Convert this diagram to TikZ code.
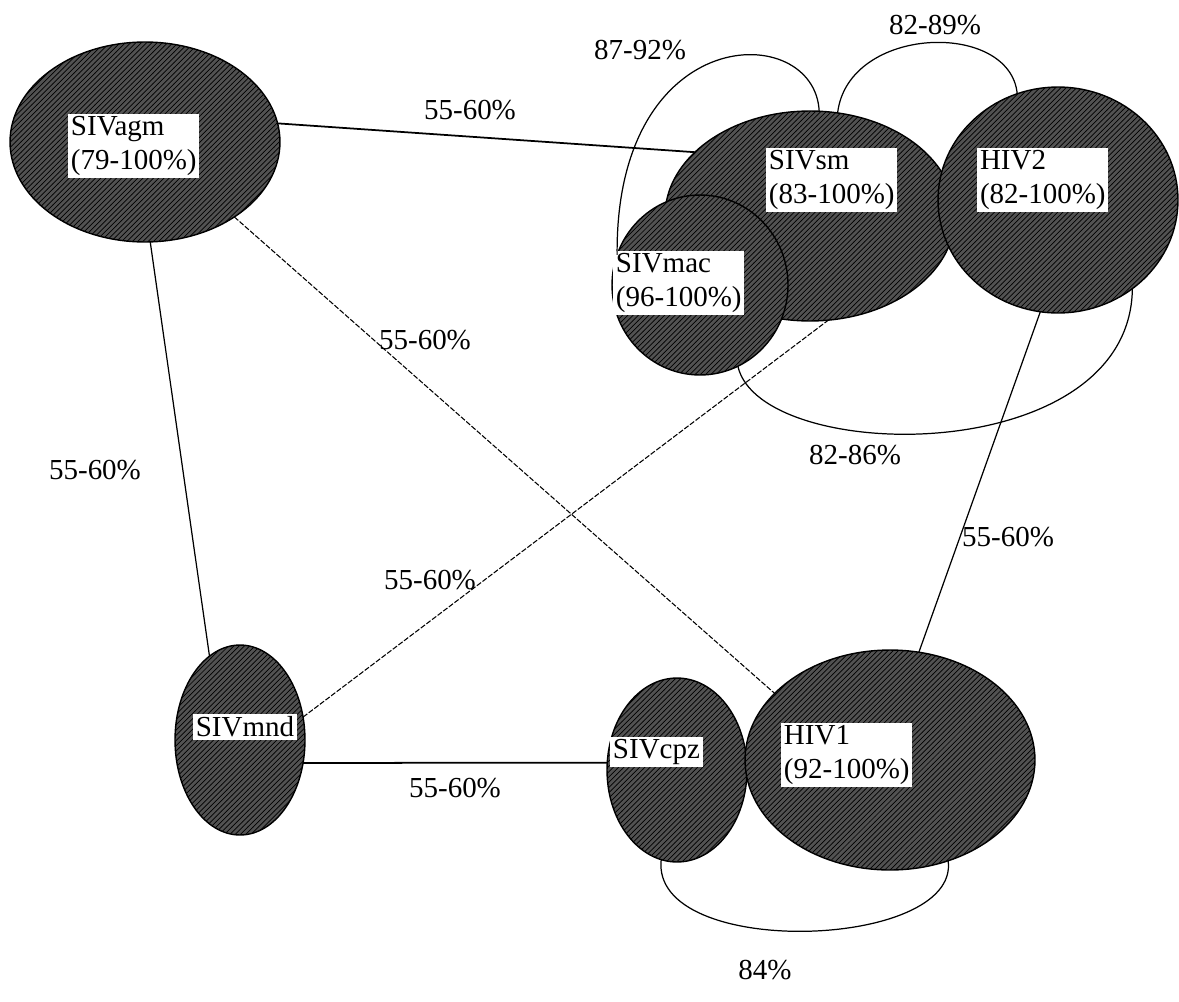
\documentclass[tikz,border=0pt]{standalone}
\usepackage{fontspec}
\setmainfont{Liberation Serif}
\usetikzlibrary{positioning,shapes,patterns}

\begin{document}
\begin{tikzpicture}[x=0.02cm, y=-0.02cm, >=stealth,
    virus/.style={ellipse, draw, line width=0.8pt, fill=black!68, postaction={pattern=north east lines, pattern color=black}, inner sep=0pt, outer sep=0pt},
    tag/.style={fill=white, inner sep=1.5pt, align=left, font=\fontsize{16.5}{19}\selectfont},
    pct/.style={font=\fontsize{16.5}{19}\selectfont, inner sep=1pt},
    link/.style={line width=0.7pt},
    faint/.style={line width=0.6pt, dash pattern=on 3pt off 1pt}]
    \useasboundingbox (0,0) rectangle (1179,1001);

    % Ellipses
    \node[virus, minimum width=5.4cm, minimum height=4cm] (agm) at (145,142) {};
    \node[virus, minimum width=5.8cm, minimum height=4.2cm] (sm) at (810,216) {};
    \node[virus, minimum width=4.8cm, minimum height=4.52cm] (hiv2) at (1058,200) {};
    \node[virus, minimum width=3.52cm, minimum height=3.6cm] (mac) at (700,285) {};
    \node[virus, minimum width=2.6cm, minimum height=3.8cm] (mnd) at (240,740) {};
    \node[virus, minimum width=2.8cm, minimum height=3.68cm] (cpz) at (677,770) {};
    \node[virus, minimum width=5.8cm, minimum height=4.4cm] (hiv1) at (890,760) {};

    % Names
    \node[tag, anchor=west] (agmtag) at (68,146) {SIVagm\\(79-100\%)};
    \node[tag, anchor=west] (smtag) at (766,180) {SIVsm\\(83-100\%)};
    \node[tag, anchor=west] (hiv2tag) at (977,180) {HIV2\\(82-100\%)};
    \node[tag, anchor=west] (mactag) at (613,283) {SIVmac\\(96-100\%)};
    \node[tag] (mndtag) at (245,727) {SIVmnd};
    \node[tag, anchor=west] (cpztag) at (610,752) {SIVcpz};
    \node[tag, anchor=west] (hiv1tag) at (781,755) {HIV1\\(92-100\%)};

    % Links
    \draw[link, line width=1pt] (agm.8) -- (sm.151);
    \draw[faint] (agm.-40) -- (hiv1.150);
    \draw[link] (agm.-87) -- (mnd.110);
    \draw[faint] (mnd.20) -- (sm.-80);
    \draw[link, line width=1pt] (mnd.-20) -- (cpz.174);
    \draw[link] (hiv2.-99) -- (hiv1.75);

    % Loops
    \draw[link] (mac.160) .. controls (615,20) and (815,20) .. (sm.85);
    \draw[link] (sm.75) .. controls (848,25) and (1010,20) .. (hiv2.111);
    \draw[link] (mac.-65) .. controls (760,465) and (1130,470) .. (hiv2.-50);
    \draw[link] (cpz.-100) .. controls (650,960) and (960,950) .. (hiv1.-60);

    % Percentages
    \node[pct] (p1) at (470,110) {55-60\%};
    \node[pct] (p2) at (425,340) {55-60\%};
    \node[pct] (p3) at (95,470) {55-60\%};
    \node[pct] (p4) at (430,580) {55-60\%};
    \node[pct] (p5) at (455,788) {55-60\%};
    \node[pct] (p6) at (1008,537) {55-60\%};
    \node[pct] (p7) at (640,50) {87-92\%};
    \node[pct] (p8) at (935,25) {82-89\%};
    \node[pct] (p9) at (855,455) {82-86\%};
    \node[pct] (p10) at (765,970) {84\%};
\end{tikzpicture}
\end{document}
